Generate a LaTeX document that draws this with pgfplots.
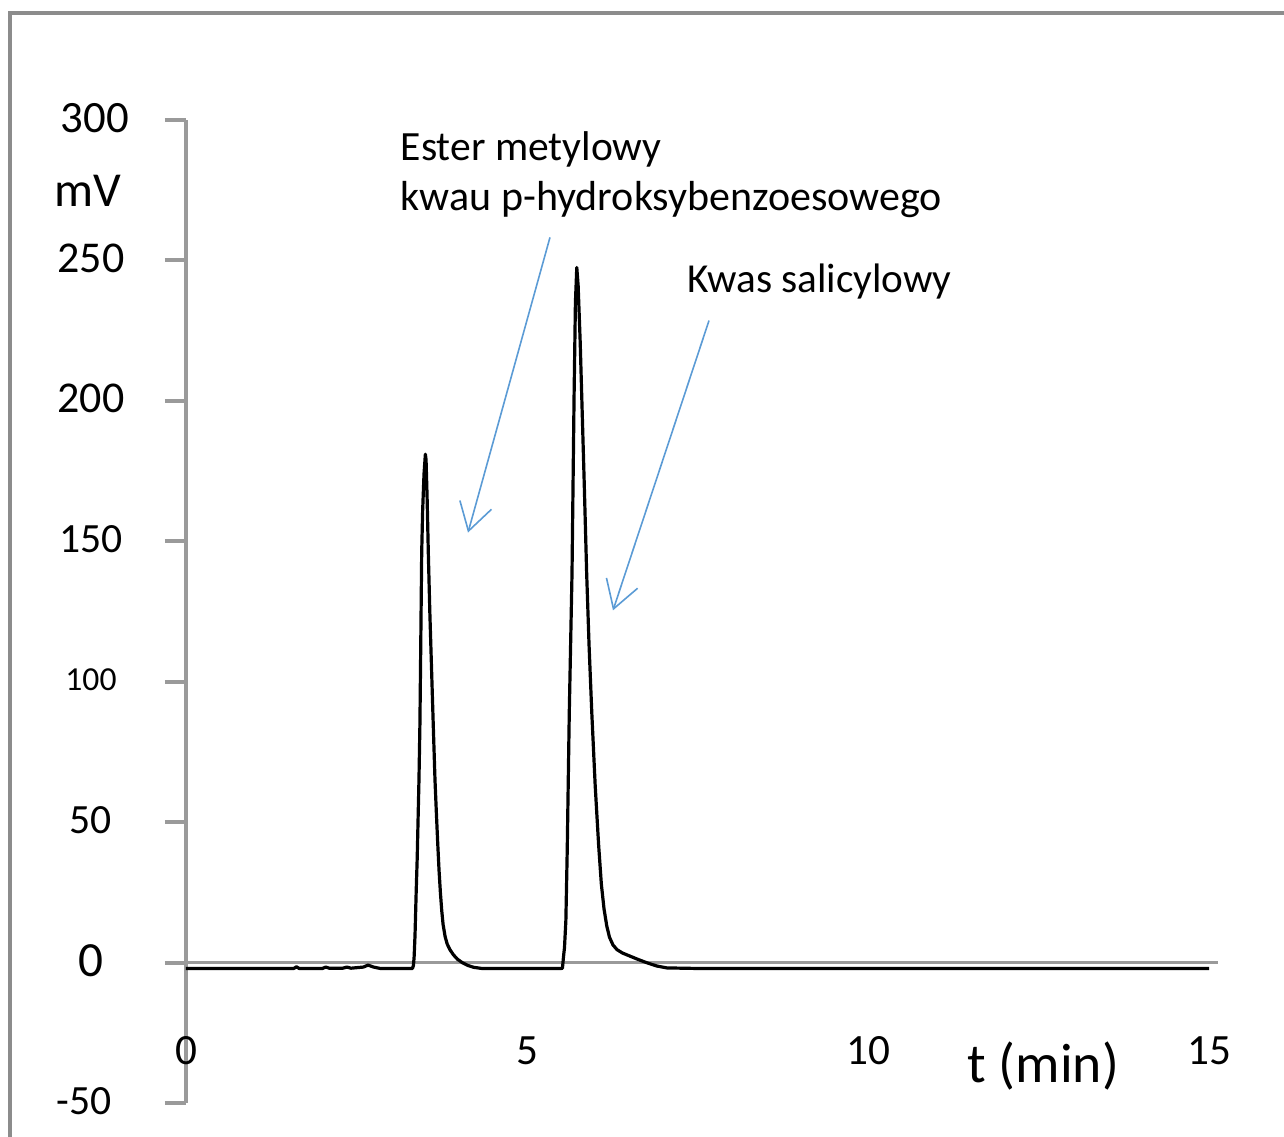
\documentclass[border=0pt]{standalone}
\usepackage{pgfplots}
\pgfplotsset{compat=1.18}
\usepackage{fontspec}
\setmainfont{Carlito}
\usetikzlibrary{arrows.meta}

\definecolor{axgray}{HTML}{9A9A9A}
\definecolor{framegray}{HTML}{8C8C8C}
\definecolor{arrowblue}{HTML}{5B9BD5}
\newcommand{\fs}[1]{\fontsize{#1}{#1}\selectfont}

\begin{document}
\begin{tikzpicture}
\begin{axis}[
    scale only axis,
    width=255.75pt,
    height=245.75pt,
    xmin=0, xmax=15,
    ymin=-50, ymax=300,
    axis x line*=bottom,
    axis y line*=left,
    x axis line style={draw=none},
    y axis line style={-, draw=axgray, line width=1pt},
    xtick={0,5,10,15},
    xticklabels={0,5,10,15},
    xtick style={draw=none},
    ytick={-50,0,50,100,150,200,250,300},
    yticklabels={{\fs{10.4}-50\hspace*{3.5pt}},{\fs{12.3}0},{\fs{10.4}50},{\fs{8.4}100},{\fs{10.4}150},{\fs{11}200},{\fs{11}250},{\fs{11.2}\hspace*{2pt}300}},
    ytick style={draw=axgray, line width=1pt},
    tick align=outside,
    major tick length=5.25pt,
    xticklabel style={font=\fs{10.8}, anchor=center, yshift=18.25pt},
    yticklabel style={anchor=center, xshift=-18.5pt, yshift=0.5pt},
    clip=false,
]
% zero line
\addplot[axgray, line width=0.6pt, mark=none, forget plot] coordinates {(0,0) (15.13,0)};

% chromatogram
\addplot[black, line width=0.8pt, line join=round, mark=none] coordinates {
(0,-2.1) (0.5,-2.1) (1.0,-2.1) (1.5,-2.1) (1.58,-2.1) (1.62,-1.5) (1.66,-2.1)
(2.0,-2.1) (2.05,-1.6) (2.1,-2.0) (2.3,-2.0) (2.36,-1.6) (2.42,-2.0)
(2.6,-1.6) (2.67,-0.9) (2.75,-1.6) (2.85,-2.1) (3.2,-2.1) (3.32,-2.1)
(3.335,-1) (3.345,2) (3.358,9.6) (3.375,25) (3.39,37) (3.416,65) (3.43,85)
(3.44,108) (3.456,146) (3.47,161) (3.49,174) (3.51,181) (3.52,179)
(3.535,166) (3.553,146) (3.575,125) (3.60,105) (3.625,85) (3.651,65)
(3.67,54) (3.69,43) (3.71,33) (3.73,25) (3.75,18.5) (3.77,13.5) (3.80,9.2)
(3.83,6.6) (3.87,4.6) (3.92,2.8) (3.98,1.2) (4.05,0) (4.13,-1.0) (4.22,-1.7)
(4.34,-2.1) (5.0,-2.1) (5.5,-2.1)
(5.52,-2) (5.535,2) (5.55,5.4) (5.57,15) (5.59,40) (5.62,89) (5.66,138.5)
(5.69,201) (5.71,235) (5.73,247.5) (5.75,241) (5.78,221) (5.80,204)
(5.84,170) (5.875,138.5) (5.91,113) (5.95,89) (6.00,63) (6.05,42)
(6.09,28) (6.13,19) (6.17,13) (6.21,9) (6.26,6.3) (6.32,4.6) (6.40,3.4)
(6.50,2.4) (6.62,1.2) (6.75,0) (6.90,-1.2) (7.05,-1.9) (7.5,-2.1) (10,-2.1) (15,-2.1)
};

% axis labels
\node[font=\fs{12.2}] at (axis cs:-1.44,274.9) {mV};
\node[font=\fs{13.9}] at (axis cs:12.57,-37.0) {t (min)};

% peak names
\node[anchor=base west, font=\fs{10.4}, inner sep=0pt] at (axis cs:3.138,285.6) {Ester metylowy};
\node[anchor=base west, font=\fs{10.5}, inner sep=0pt] at (axis cs:3.138,267.8) {kwau p-hydroksybenzoesowego};
\node[anchor=base west, font=\fs{10.3}, inner sep=0pt] at (axis cs:7.346,238.6) {Kwas salicylowy};

% arrows
\draw[arrowblue, line width=0.4pt, -{Straight Barb[length=6.8pt, width=8.2pt]}]
    (axis cs:5.337,258.2) -- (axis cs:4.135,153.1);
\draw[arrowblue, line width=0.4pt, -{Straight Barb[length=6.8pt, width=8.2pt]}]
    (axis cs:7.669,228.6) -- (axis cs:6.261,125.4);
\end{axis}

% outer frame, cut by the page edge
\draw[framegray, line width=0.8pt] (-44pt,-20pt) -- (-44pt,272.5pt) -- (290pt,272.5pt);
\pgfresetboundingbox
\path[use as bounding box] (-46.5pt,-8.25pt) rectangle (274.5pt,275.75pt);
\end{tikzpicture}
\end{document}
